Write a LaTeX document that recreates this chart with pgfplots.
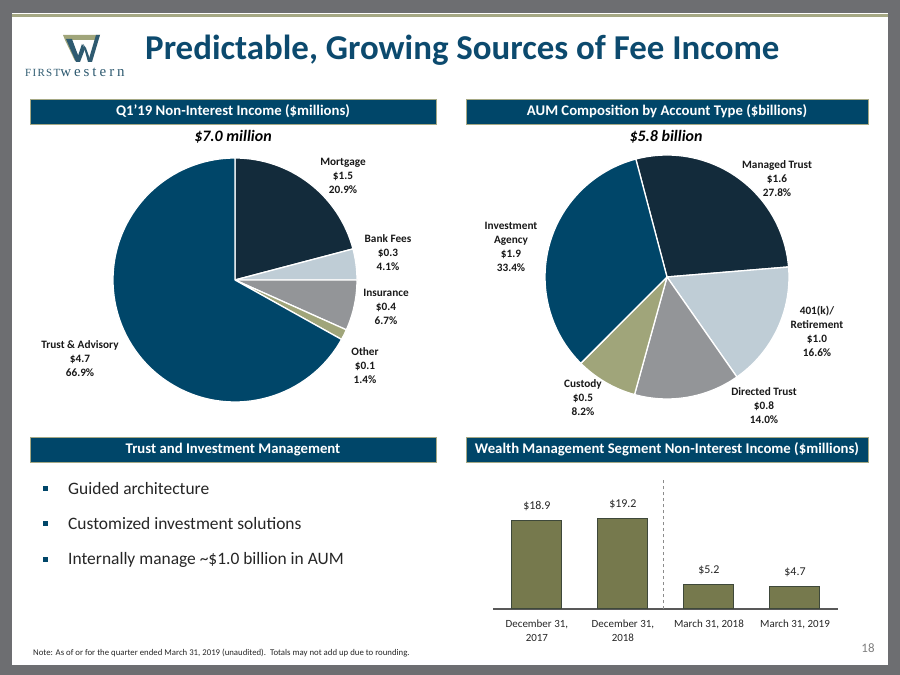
\documentclass[border=0pt]{standalone}
\usepackage{pgfplots}
\pgfplotsset{compat=1.18}
\usepackage{fontspec}
\setmainfont{Carlito}
\newfontfamily\logofont{Liberation Serif}
\definecolor{frame}{RGB}{109,110,113}
\definecolor{oliveline}{RGB}{165,168,132}
\definecolor{titleblue}{RGB}{12,74,110}
\definecolor{hdr}{RGB}{0,70,105}
\definecolor{navy}{RGB}{19,43,59}
\definecolor{tealb}{RGB}{0,70,105}
\definecolor{lightb}{RGB}{191,205,214}
\definecolor{midgray}{RGB}{147,149,152}
\definecolor{khaki}{RGB}{160,165,122}
\definecolor{barfill}{RGB}{118,121,77}
\definecolor{baredge}{RGB}{62,72,58}
\definecolor{logoblue}{RGB}{46,90,112}
\newcommand\slice[4]{%
  \fill[#4, draw=white, line width=1.3bp, line join=round] (axis cs:0,0) -- ++({#1-3.6*#2}:122bp)
    arc[start angle={#1-3.6*#2}, end angle={#1-3.6*#3}, radius=122bp] -- cycle;}
\tikzset{
  hbox/.style={fill=hdr, draw=oliveline, line width=0.6bp, minimum height=25bp, inner sep=0pt,
    text=white, font=\fontsize{14.8}{16}\selectfont\bfseries},
  plab/.style={inner sep=0pt, align=center, font=\fontsize{11.3}{14}\selectfont\bfseries, text=black!90},
}
\begin{document}
\begin{tikzpicture}[x=1bp,y=1bp]
\useasboundingbox (0,0) rectangle (900,675);
\coordinate (pieA) at (235,395);
\coordinate (pieB) at (667,398);
\coordinate (barO) at (493,66);
% frame
\fill[frame] (0,0) rectangle (900,675);
\fill[white] (12,10) rectangle (888,662);
\draw[oliveline, line width=2.5bp] (12,659.7) -- (888,659.7);
% logo
\fill[khaki] (63,640) -- (100,640) -- (98,635) -- (65,635) -- cycle;
\fill[khaki] (65,635) -- (71,635) -- (78,620) -- (75,614) -- cycle;
\fill[logoblue] (66,636) -- (72,636) -- (79,617) -- (76,613) -- cycle;
\fill[logoblue] (76,613) -- (80,613) -- (85,626) -- (82,631) -- cycle;
\fill[logoblue] (83,631) -- (86,627) -- (91,613) -- (88,613) -- cycle;
\fill[logoblue] (88,613) -- (92,613) -- (100,640) -- (96,640) -- cycle;
\node[anchor=base west, inner sep=0pt, text=logoblue] at (25,598)
  {\logofont\addfontfeatures{LetterSpace=12}\fontsize{11}{12}\selectfont FIRST\addfontfeatures{LetterSpace=20}\fontsize{15}{15}\selectfont western};
% title
\node[anchor=base west, inner sep=0pt, text=titleblue, font=\fontsize{35}{36}\selectfont\bfseries]
  at (145,615) {Predictable, Growing Sources of Fee Income};
% headers
\node[hbox, minimum width=406bp] at (233,563.5) {Q1’19 Non-Interest Income (\$millions)};
\node[hbox, minimum width=402bp] at (667,563.5) {AUM Composition by Account Type (\$billions)};
\node[hbox, minimum width=406bp] at (233,225.5) {Trust and Investment Management};
\node[hbox, minimum width=402bp] at (667,225.5) {Wealth Management Segment Non-Interest Income (\$millions)};
\node[inner sep=0pt, font=\fontsize{16}{17}\selectfont\bfseries\itshape] at (233,538) {\$7.0 million};
\node[inner sep=0pt, font=\fontsize{16}{17}\selectfont\bfseries\itshape] at (666,538) {\$5.8 billion};
% pie 1
\begin{axis}[at={(pieA)}, anchor=center, scale only axis, width=244bp, height=244bp,
  xmin=-1, xmax=1, ymin=-1, ymax=1, hide axis]
\slice{90}{0}{20.9}{navy}
\slice{90}{20.9}{25.0}{lightb}
\slice{90}{25.0}{31.7}{midgray}
\slice{90}{31.7}{33.1}{khaki}
\slice{90}{33.1}{100}{tealb}
\end{axis}
% pie 2
\begin{axis}[at={(pieB)}, anchor=center, scale only axis, width=244bp, height=244bp,
  xmin=-1, xmax=1, ymin=-1, ymax=1, hide axis]
\slice{104.8}{0}{27.8}{navy}
\slice{104.8}{27.8}{44.4}{lightb}
\slice{104.8}{44.4}{58.4}{midgray}
\slice{104.8}{58.4}{66.6}{khaki}
\slice{104.8}{66.6}{100}{tealb}
\end{axis}
% pie labels
\node[plab] at (343,499) {Mortgage\\\$1.5\\20.9\%};
\node[plab] at (388,422) {Bank Fees\\\$0.3\\4.1\%};
\node[plab] at (386,368) {Insurance\\\$0.4\\6.7\%};
\node[plab] at (365,309) {Other\\\$0.1\\1.4\%};
\node[plab] at (80,316) {Trust \& Advisory\\\$4.7\\66.9\%};
\node[plab] at (777,496) {Managed Trust\\\$1.6\\27.8\%};
\node[plab] at (817,344) {401(k)/\\Retirement\\\$1.0\\16.6\%};
\node[plab] at (764,269) {Directed Trust\\\$0.8\\14.0\%};
\node[plab] at (583,277) {Custody\\\$0.5\\8.2\%};
\node[plab] at (511,428) {Investment\\Agency\\\$1.9\\33.4\%};
% bullets
\foreach \yy/\tx in {186/Guided architecture, 151/Customized investment solutions, 115/Internally manage \textasciitilde\$1.0 billion in AUM}{
  \fill[tealb] (42.5,\yy-2.5) rectangle ++(5.5,5.5);
  \node[anchor=west, inner sep=0pt, font=\fontsize{17.5}{19}\selectfont, text=black!85] at (68,\yy) {\tx};
}
% bar chart
\begin{axis}[at={(barO)}, anchor=south west, scale only axis, width=345bp, height=131.6bp,
  xmin=-0.51, xmax=3.5, ymin=0, ymax=28,
  axis x line*=bottom, axis y line=none,
  x axis line style={-, draw=black!65, line width=1.2bp},
  xtick={0,1,2,3}, major tick length=0pt,
  xticklabels={{December 31,\\2017},{December 31,\\2018},{March 31, 2018},{March 31, 2019}},
  xticklabel style={align=center, font=\fontsize{11}{14.5}\selectfont, text=black!85, yshift=-7bp},
  ybar, bar width=50bp,
  /pgf/number format/assume math mode=true,
  nodes near coords={\$\pgfmathprintnumber[fixed,fixed zerofill,precision=1]{\pgfplotspointmeta}},
  every node near coord/.append style={font=\fontsize{12}{13}\selectfont, text=black!85, yshift=6bp},
  clip=false]
\addplot[fill=barfill, draw=baredge, line width=1bp] coordinates {(0,18.9) (1,19.2) (2,5.2) (3,4.7)};
\addplot[sharp plot, draw=black!45, dashed, line width=1bp, nodes near coords={}, forget plot] coordinates {(1.47,0) (1.47,27.9)};
\end{axis}
% footer
\node[anchor=west, inner sep=0pt, font=\fontsize{8.8}{9}\selectfont, text=black!85] at (33,22)
  {Note: As of or for the quarter ended March 31, 2019 (unaudited).\ \ Totals may not add up due to rounding.};
\node[inner sep=0pt, font=\fontsize{13}{14}\selectfont, text=black!50] at (868,27) {18};
\end{tikzpicture}
\end{document}
